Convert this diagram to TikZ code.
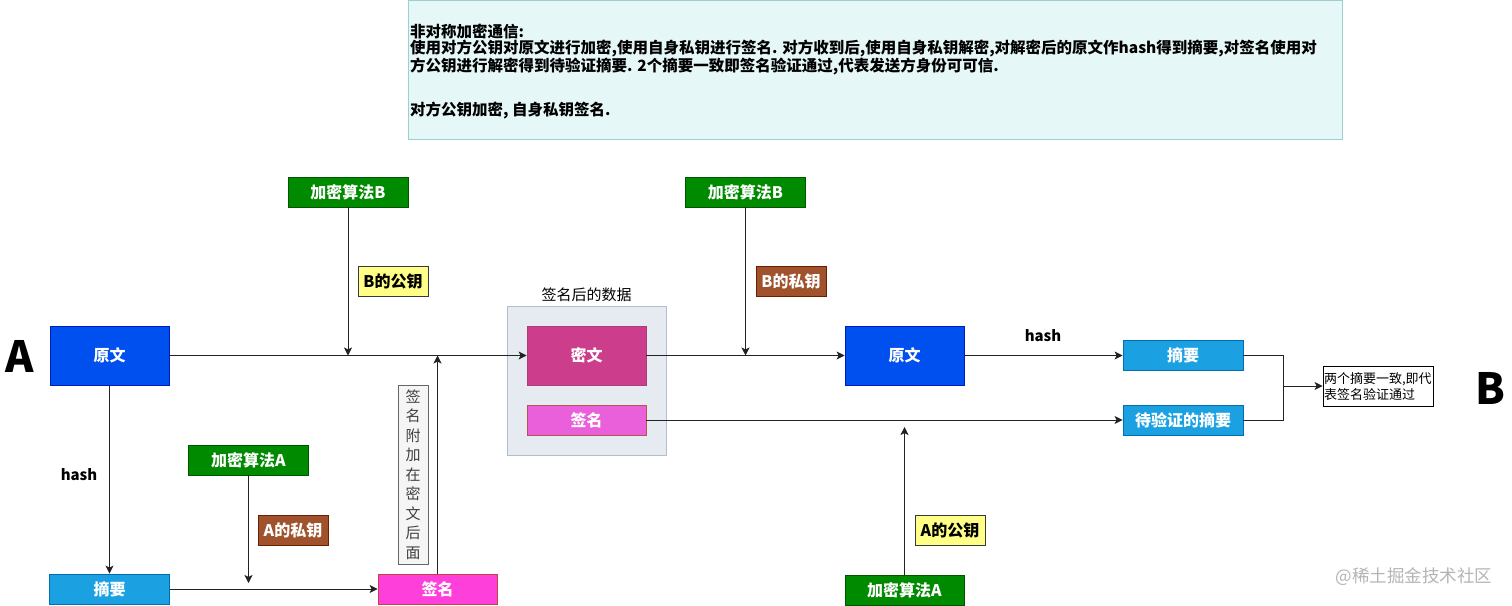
\documentclass[tikz,border=0pt]{standalone}
\usepackage{fontspec}
\setmainfont{Noto Sans CJK SC}
\usetikzlibrary{arrows.meta}
\definecolor{cBlue}{HTML}{0050EF}
\definecolor{cBlueD}{HTML}{001DBC}
\definecolor{cLBlue}{HTML}{1BA1E2}
\definecolor{cLBlueD}{HTML}{006EAF}
\definecolor{cGreen}{HTML}{008A00}
\definecolor{cGreenD}{HTML}{005700}
\definecolor{cYellow}{HTML}{FFFF88}
\definecolor{cYellowD}{HTML}{36393D}
\definecolor{cBrown}{HTML}{A0522D}
\definecolor{cBrownD}{HTML}{6D1F00}
\definecolor{cCipher}{HTML}{CC3E8C}
\definecolor{cCipherD}{HTML}{B03A7A}
\definecolor{cSig}{HTML}{EA60DB}
\definecolor{cSigD}{HTML}{B85450}
\definecolor{cSigB}{HTML}{FF3FDA}
\definecolor{cSigBD}{HTML}{C84040}
\definecolor{cGroup}{HTML}{E6EBF1}
\definecolor{cGroupD}{HTML}{B4BEC9}
\definecolor{cNote}{HTML}{E6F7F7}
\definecolor{cNoteD}{HTML}{9CCFCF}
\definecolor{cVert}{HTML}{F5F5F5}
\definecolor{cVertD}{HTML}{666666}
\definecolor{cWater}{HTML}{B4B4B4}
\definecolor{cLine}{HTML}{222222}
\begin{document}
\begin{tikzpicture}[x=1pt,y=-1pt,
  box/.style={draw, line width=0.8pt, inner sep=0pt, text=white,
    font=\fontsize{16}{16}\selectfont\bfseries},
  bigbox/.style={box, minimum width=119pt, minimum height=59pt},
  smallbox/.style={box, minimum width=120pt, minimum height=30pt},
  keybox/.style={box, minimum width=70pt, minimum height=30pt},
  blueb/.style={bigbox, fill=cBlue, draw=cBlueD},
  digestb/.style={smallbox, fill=cLBlue, draw=cLBlueD},
  algob/.style={smallbox, fill=cGreen, draw=cGreenD},
  pubb/.style={keybox, fill=cYellow, draw=cYellowD, text=black},
  privb/.style={keybox, fill=cBrown, draw=cBrownD},
  wire/.style={draw=cLine, line width=0.9pt},
  conn/.style={wire, -{Stealth[length=8pt,width=8pt,inset=2pt]}},
  bigletter/.style={font=\fontsize{43}{43}\selectfont\bfseries, inner sep=0pt},
  hashlbl/.style={font=\fontsize{15}{15}\selectfont\bfseries, inner sep=0pt}
]
\useasboundingbox (0,0) rectangle (1512,605);

% note
\node[draw=cNoteD, fill=cNote, line width=0.8pt, minimum width=934pt, minimum height=139pt, inner sep=0pt] (note) at (875,69.5) {};
\node[anchor=north west, inner sep=0pt, align=left,
  font=\fontsize{15.5}{16}\selectfont\bfseries] (notetext) at (410,24)
  {非对称加密通信:\\
   使用对方公钥对原文进行加密,使用自身私钥进行签名.  对方收到后,使用自身私钥解密,对解密后的原文作hash得到摘要,对签名使用对\\
   方公钥进行解密得到待验证摘要. 2个摘要一致即签名验证通过,代表发送方身份可可信.\\[26pt]
   对方公钥加密, 自身私钥签名.};

% sender side
\node[bigletter] (A) at (20,356) {A};
\node[blueb] (yw1) at (109.5,355.5) {原文};
\node[digestb] (zy1) at (109.5,589) {摘要};
\node[hashlbl] (hash1) at (79,475) {hash};
\node[algob] (kB1) at (348,192) {加密算法B};
\node[pubb] (pB) at (393,281) {B的公钥};
\node[algob] (kA1) at (248.5,460) {加密算法A};
\node[privb] (sA) at (293,530) {A的私钥};
\node[box, fill=cSigB, draw=cSigBD, minimum width=119pt, minimum height=30pt] (qm2) at (437.5,589) {签名};
\node[draw=cVertD, fill=cVert, line width=0.8pt, minimum width=30pt, minimum height=179pt, inner sep=0pt, align=center, text=black!75,
  font=\fontsize{15}{19.5}\selectfont] (vt) at (413,474.5)
  {签\\名\\附\\加\\在\\密\\文\\后\\面};

% signed data group
\node[draw=cGroupD, fill=cGroup, line width=0.8pt, minimum width=159pt, minimum height=149pt, inner sep=0pt,
  label={[font=\fontsize{15}{15}\selectfont, inner sep=0pt, yshift=4pt]above:签名后的数据}] (grp) at (586.5,380.5) {};
\node[bigbox, fill=cCipher, draw=cCipherD] (mw) at (586.5,355.5) {密文};
\node[box, fill=cSig, draw=cSigD, minimum width=119pt, minimum height=30pt] (qm1) at (586.5,420) {签名};

% receiver side
\node[algob] (kB2) at (745.5,192) {加密算法B};
\node[privb] (sB) at (791,281) {B的私钥};
\node[blueb] (yw2) at (904.5,355.5) {原文};
\node[hashlbl] (hash2) at (1043,336) {hash};
\node[digestb] (zy2) at (1183,355.5) {摘要};
\node[digestb] (dy) at (1183,420) {待验证的摘要};
\node[algob, minimum width=119pt] (kA2) at (904.5,590) {加密算法A};
\node[pubb] (pA) at (950,530) {A的公钥};
\node[draw=black, line width=0.8pt, minimum width=110pt, minimum height=40pt, inner sep=1pt, align=left,
  font=\fontsize{13}{16}\selectfont, text width=108pt] (res) at (1378,386)
  {两个摘要一致,即代\\表签名验证通过};
\node[bigletter] (B) at (1490,388) {B};
\node[text=cWater, font=\fontsize{17.5}{17.5}\selectfont, inner sep=0pt] (wm) at (1414,577) {@稀土掘金技术社区};

% junction points
\coordinate (jB1) at (348,355.5);
\coordinate (jS) at (437.5,355.5);
\coordinate (jA1) at (248.5,583);
\coordinate (jB2) at (745.5,355.5);
\coordinate (jA2) at (904.5,427);
\coordinate (jM) at (1283,386);

% connectors
\draw[conn] (yw1.east) -- (mw.west);
\draw[conn] (kB1.south) -- (jB1);
\draw[conn] (yw1.south) -- (zy1.north);
\draw[conn] (zy1.east) -- (qm2.west);
\draw[conn] (kA1.south) -- (jA1);
\draw[conn] (qm2.north) -- (jS);
\draw[conn] (mw.east) -- (yw2.west);
\draw[conn] (kB2.south) -- (jB2);
\draw[conn] (yw2.east) -- (zy2.west);
\draw[conn] (qm1.east) -- (dy.west);
\draw[conn] (kA2.north) -- (jA2);
\draw[wire] (zy2.east) -| (jM);
\draw[wire] (dy.east) -| (jM);
\draw[conn] (jM) -- (res.west);
\end{tikzpicture}
\end{document}
